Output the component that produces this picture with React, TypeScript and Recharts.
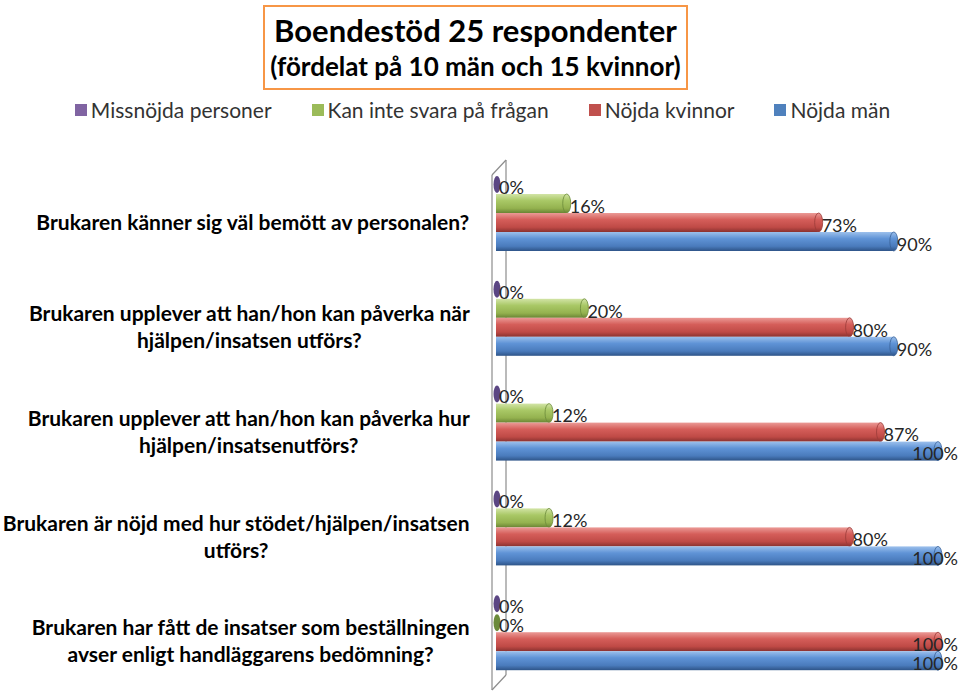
import React from "react";
import { BarChart, Bar, XAxis, YAxis, Legend, LabelList } from "recharts";

// Swedish survey, share per answer (%)
const categories = [
  "Brukaren känner sig väl bemött av personalen?",
  "Brukaren upplever att han/hon kan påverka när\nhjälpen/insatsen utförs?",
  "Brukaren upplever att han/hon kan påverka hur\nhjälpen/insatsenutförs?",
  "Brukaren är nöjd med hur stödet/hjälpen/insatsen\nutförs?",
  "Brukaren har fått de insatser som beställningen\navser enligt handläggarens bedömning?",
];
const missnojda = [0, 0, 0, 0, 0];
const kanInteSvara = [16, 20, 12, 12, 0];
const nojdaKvinnor = [73, 80, 87, 80, 100];
const nojdaMan = [90, 90, 100, 100, 100];

const seriesNames = [
  "Missnöjda personer",
  "Kan inte svara på frågan",
  "Nöjda kvinnor",
  "Nöjda män",
];

const data = categories.map((category, i) => ({
  category,
  missnojda: missnojda[i],
  kanInteSvara: kanInteSvara[i],
  nojdaKvinnor: nojdaKvinnor[i],
  nojdaMan: nojdaMan[i],
}));

const series = [
  { key: "missnojda", name: seriesNames[0], color: "#8064A2", stops: ["#b5a2d0", "#8a6db0", "#745b98", "#4f3d6c"], dark: "#5b4683" },
  { key: "kanInteSvara", name: seriesNames[1], color: "#9BBB59", stops: ["#d2e4a6", "#a9c866", "#94b24f", "#6a8434"], dark: "#6b8a3a" },
  { key: "nojdaKvinnor", name: seriesNames[2], color: "#C0504D", stops: ["#eb9a96", "#d55e5a", "#bf4a46", "#8a3230"], dark: "#9a3b38" },
  { key: "nojdaMan", name: seriesNames[3], color: "#4F81BD", stops: ["#9cc0ec", "#5f93d6", "#4a7bbc", "#2e5488"], dark: "#3a6298" },
];

const W = 959;
const H = 691;
const PLOT_LEFT = 496;
const PLOT_TOP = 161;
const PLOT_BOTTOM = 685;
const FONT = "Lato, Carlito, Calibri, sans-serif";

let ctx: CanvasRenderingContext2D | null = null;
function measure(text: string, font: string) {
  if (!ctx) ctx = document.createElement("canvas").getContext("2d");
  if (!ctx) return text.length * 9;
  ctx.font = font;
  return ctx.measureText(text).width;
}

function CategoryTick(props: any) {
  const { x, y, payload } = props;
  const lines = String(payload.value).split("\n");
  const maxW = Math.max(...lines.map((l) => measure(l, `bold 21px ${FONT}`)));
  const cx = x - maxW / 2;
  const lineH = 27;
  const startY = y + 9 - ((lines.length - 1) * lineH) / 2;
  return (
    <text x={cx} textAnchor="middle" fontFamily={FONT} fontWeight={700} fontSize={21} fill="#000">
      {lines.map((l, i) => (
        <tspan key={i} x={cx} y={startY + i * lineH} dy="0.35em">
          {l}
        </tspan>
      ))}
    </text>
  );
}

function ValueLabel(props: any) {
  const { x, y, width, height, value } = props;
  const text = `${value}%`;
  const w = measure(text, `18px ${FONT}`);
  let tx = Number(x) + Number(width) + 3;
  let anchor: "start" | "end" = "start";
  if (tx + w > W - 1) {
    tx = W - 1;
    anchor = "end";
  }
  return (
    <text x={tx} y={Number(y) + Number(height) / 2 + 3} dy="0.35em" textAnchor={anchor} fontFamily={FONT} fontSize={18} fill="#262626">
      {text}
    </text>
  );
}

function Cylinder(props: any) {
  const { x, y, width, height, s } = props;
  const cy = y + height / 2;
  const ry = height / 2;
  if (width < 1) {
    return <ellipse cx={x + 1} cy={cy} rx={3.5} ry={ry - 1} fill={s.dark} />;
  }
  return (
    <g>
      <rect x={x} y={y} width={width} height={height} fill={`url(#body-${s.key})`} />
      <ellipse cx={x + width} cy={cy} rx={4} ry={ry} fill={`url(#body-${s.key})`} stroke={s.dark} strokeWidth={0.8} />
    </g>
  );
}

function LegendContent() {
  return (
    <div style={{ display: "flex", justifyContent: "center", gap: 40, height: 63, boxSizing: "border-box", fontFamily: FONT, fontSize: 21, color: "#333", lineHeight: "24px", paddingLeft: 6 }}>
      {series.map((s) => (
        <div key={s.key} style={{ display: "flex", alignItems: "center", height: 24 }}>
          <span style={{ display: "inline-block", width: 12, height: 12, background: s.color, marginRight: 4 }} />
          <span>{s.name}</span>
        </div>
      ))}
    </div>
  );
}

export default function App() {
  const front = PLOT_LEFT - 4;
  const back = PLOT_LEFT + 10;
  return (
    <div style={{ position: "absolute", left: 0, top: 0, width: W, height: H, background: "#fff" }}>
      <svg width={W} height={H} style={{ position: "absolute", left: 0, top: 0 }}>
        <g stroke="#8c8c8c" strokeWidth={1.2} fill="none">
          <line x1={front} y1={PLOT_TOP + 14} x2={front} y2={PLOT_BOTTOM + 5} />
          <line x1={back} y1={PLOT_TOP - 1} x2={back} y2={PLOT_BOTTOM - 10} />
          <line x1={front} y1={PLOT_TOP + 14} x2={back} y2={PLOT_TOP - 1} />
          <line x1={front} y1={PLOT_BOTTOM + 5} x2={back} y2={PLOT_BOTTOM - 10} />
        </g>
      </svg>
      <div style={{ position: "absolute", left: 0, top: 0 }}>
        <BarChart
          width={W}
          height={H}
          data={data}
          layout="vertical"
          margin={{ top: 98, right: W - 938, bottom: H - PLOT_BOTTOM, left: 0 }}
          barSize={19}
          barGap={0}
        >
          <defs>
            {series.map((s) => (
              <linearGradient key={s.key} id={`body-${s.key}`} x1="0" y1="0" x2="0" y2="1">
                <stop offset="0%" stopColor={s.stops[0]} />
                <stop offset="35%" stopColor={s.stops[1]} />
                <stop offset="75%" stopColor={s.stops[2]} />
                <stop offset="100%" stopColor={s.stops[3]} />
              </linearGradient>
            ))}
          </defs>
          <XAxis type="number" domain={[0, 100]} hide />
          <YAxis
            type="category"
            dataKey="category"
            width={PLOT_LEFT}
            axisLine={false}
            tickLine={false}
            tickSize={0}
            tickMargin={26}
            interval={0}
            tick={<CategoryTick />}
          />
          <Legend verticalAlign="top" content={<LegendContent />} wrapperStyle={{ left: 0, top: 98, width: W }} />
          {series.map((s) => (
            <Bar
              key={s.key}
              dataKey={s.key}
              name={s.name}
              fill={s.color}
              isAnimationActive={false}
              shape={(p: any) => <Cylinder {...p} s={s} />}
            >
              <LabelList dataKey={s.key} content={<ValueLabel />} />
            </Bar>
          ))}
        </BarChart>
      </div>
      <div
        style={{
          position: "absolute",
          left: 263,
          top: 5,
          width: 425,
          height: 85,
          boxSizing: "border-box",
          border: "2.5px solid #F79646",
          fontFamily: FONT,
          fontWeight: 700,
          color: "#000",
          textAlign: "center",
          paddingTop: 4,
        }}
      >
        <div style={{ fontSize: 31, lineHeight: "38px" }}>Boendestöd 25 respondenter</div>
        <div style={{ fontSize: 26, lineHeight: "30px", marginTop: 2, whiteSpace: "nowrap" }}>(fördelat på 10 män och 15 kvinnor)</div>
      </div>
    </div>
  );
}
